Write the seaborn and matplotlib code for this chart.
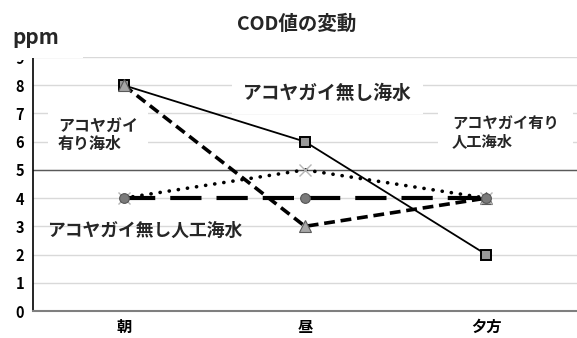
import matplotlib
matplotlib.use("Agg")
import matplotlib.pyplot as plt
import matplotlib.patches as mpatches
import seaborn as sns
import pandas as pd

# --- data -------------------------------------------------------------
times = ["朝", "昼", "夕方"]
sea_without = [8, 6, 2]            # アコヤガイ無し海水
sea_with = [8, 3, 4]               # アコヤガイ有り海水
artificial_with = [4, 5, 4]        # アコヤガイ有り人工海水
artificial_without = [4, 4, 4]     # アコヤガイ無し人工海水
y_ticks = list(range(0, 10))
threshold = 5

sns.set_theme(style="white")
plt.rcParams["font.family"] = ["Noto Sans CJK JP", "DejaVu Sans"]

fig = plt.figure(figsize=(5.77, 3.38), dpi=100)
ax = fig.add_axes([33 / 577, 27 / 338, 544 / 577, 254 / 338])

# light horizontal grid, kept under everything else
ax.set_axisbelow(True)
ax.yaxis.grid(True, color="#d9d9d9", lw=1.0, zorder=0.5)
ax.xaxis.grid(False)

series = [
    (sea_without, dict(color="black", lw=1.3, linestyle="-", marker="s", ms=6.5,
                       mfc="#999999", mec="black", mew=1.4)),
    (sea_with, dict(color="black", lw=2.6, linestyle=(0, (3.0, 1.6)), marker="^", ms=8.5,
                    mfc="#a6a6a6", mec="#5a5a5a", mew=0.8)),
    (artificial_with, dict(color="black", lw=2.6, linestyle=(0, (0.05, 2.5)),
                           dash_capstyle="round", marker="x", ms=8, mec="#b5b5b5", mew=1.0)),
    (artificial_without, dict(color="black", lw=3.0, linestyle=(0, (7.5, 3.6)), marker="o", ms=7,
                              mfc="#7a7a7a", mec="#555555", mew=0.8)),
]
for vals, style in series:
    df = pd.DataFrame({"time": times, "ppm": vals})
    sns.lineplot(data=df, x="time", y="ppm", ax=ax, sort=False, errorbar=None,
                 zorder=3, **style)

ax.axhline(threshold, color="#595959", lw=1.0, zorder=1.2)

ax.set_xlim(-0.5, len(times) - 0.5)
ax.set_ylim(0, 9)
ax.set_yticks(y_ticks)
ax.set_yticklabels([str(v) for v in y_ticks], fontsize=10.5, fontweight="bold")
ax.set_xticks(range(len(times)))
ax.set_xticklabels(times, fontsize=11, fontweight="bold")
ax.tick_params(axis="y", length=0, pad=6.5, colors="black")
ax.tick_params(axis="x", length=0, pad=6, colors="black")
ax.set_xlabel("")
ax.set_ylabel("")

for side in ("top", "right"):
    ax.spines[side].set_visible(False)
ax.spines["left"].set_color("black")
ax.spines["left"].set_linewidth(1.2)
ax.spines["bottom"].set_color("#7f7f7f")
ax.spines["bottom"].set_linewidth(1.5)

# series labels written on the plot
box = dict(fc="white", ec="none", pad=8)
ax.text(0.658, 7.70, "アコヤガイ無し海水", fontsize=13.5, fontweight="bold",
        ha="left", va="center", bbox=box, zorder=1.5)
ax.text(-0.362, 6.21, "アコヤガイ\n有り海水", fontsize=11.5, fontweight="bold",
        ha="left", va="center", linespacing=1.1, bbox=dict(fc="white", ec="none", pad=7),
        zorder=1.5)
ax.text(1.811, 6.33, "アコヤガイ有り\n人工海水", fontsize=11, fontweight="bold",
        ha="left", va="center", linespacing=1.1, bbox=dict(fc="white", ec="none", pad=10),
        zorder=1.5)
ax.text(-0.423, 2.84, "アコヤガイ無し人工海水", fontsize=12.8, fontweight="bold",
        ha="left", va="center", zorder=1.5)

# unit label panel in the top-left corner (covers the top of the axis)
fig.add_artist(mpatches.Rectangle((0, 1 - 60 / 338), 30 / 577, 60 / 338,
                                  transform=fig.transFigure, fc="white", ec="none", zorder=5))
fig.add_artist(mpatches.Rectangle((30 / 577, 1 - 57.5 / 338), 53 / 577, 57.5 / 338,
                                  transform=fig.transFigure, fc="white", ec="none", zorder=5))
fig.text(36 / 577, 1 - 37 / 338, "ppm", fontsize=15, fontweight="bold",
         ha="center", va="center", zorder=6)

fig.text(297 / 577, 1 - 24 / 338, "COD値の変動", fontsize=14, fontweight="bold",
         ha="center", va="center")

fig.savefig("out.png", dpi=100, facecolor="white")
